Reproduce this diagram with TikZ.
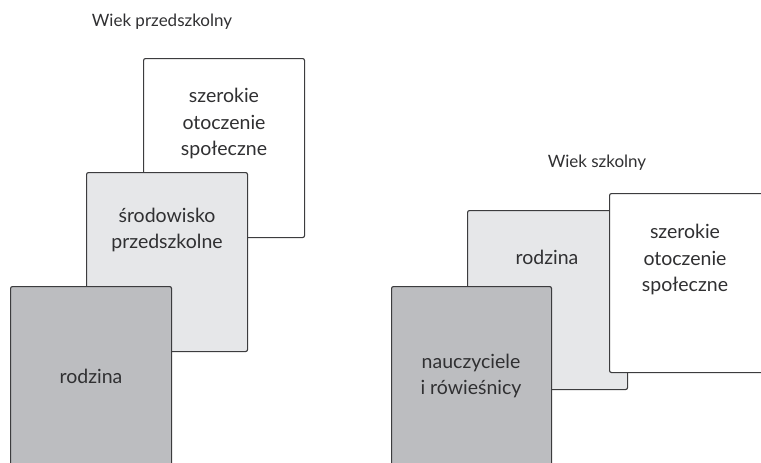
\documentclass[tikz,border=0pt]{standalone}
\usepackage{fontspec}
\setmainfont{Lato}
\begin{document}
\definecolor{edge}{HTML}{3C3C3E}
\definecolor{ink}{HTML}{303032}
\definecolor{paleg}{HTML}{E6E7E9}
\definecolor{darkg}{HTML}{BCBDC0}
\begin{tikzpicture}[x=1pt,y=1pt,
  card/.style={draw=edge, line width=1.1pt, rounded corners=2pt, anchor=north west, inner sep=0pt},
  lbl/.style={text=ink, font=\fontsize{19.5}{26.5}\selectfont, align=center, inner sep=0pt},
  ttl/.style={text=ink, font=\fontsize{17}{20}\selectfont, inner sep=0pt}]
\useasboundingbox (0,0) rectangle (761,-463);
\clip (0,0) rectangle (761,-463);
% preschool age
\node[ttl] (t1) at (162,-22) {Wiek przedszkolny};
\node[card, fill=white, minimum width=161pt, minimum height=179pt] (a3) at (143,-58) {};
\node[card, fill=paleg, minimum width=161pt, minimum height=179pt] (a2) at (86,-172) {};
\node[card, fill=darkg, minimum width=161pt, minimum height=200pt] (a1) at (10,-286) {};
\node[lbl] (a3t) at (224,-123.5) {szerokie\\otoczenie\\społeczne};
\node[lbl] (a2t) at (167,-230) {środowisko\\przedszkolne};
\node[lbl] (a1t) at (91,-376) {rodzina};
% school age
\node[ttl] (t2) at (597,-163) {Wiek szkolny};
\node[card, fill=paleg, minimum width=160pt, minimum height=179pt] (b2) at (467,-210) {};
\node[card, fill=white, minimum width=160pt, minimum height=179pt] (b3) at (609,-193) {};
\node[card, fill=darkg, minimum width=160pt, minimum height=200pt] (b1) at (391,-286) {};
\node[lbl] (b2t) at (547,-257) {rodzina};
\node[lbl] (b3t) at (685,-259.5) {szerokie\\otoczenie\\społeczne};
\node[lbl] (b1t) at (471,-376) {nauczyciele\\i rówieśnicy};
\end{tikzpicture}
\end{document}
